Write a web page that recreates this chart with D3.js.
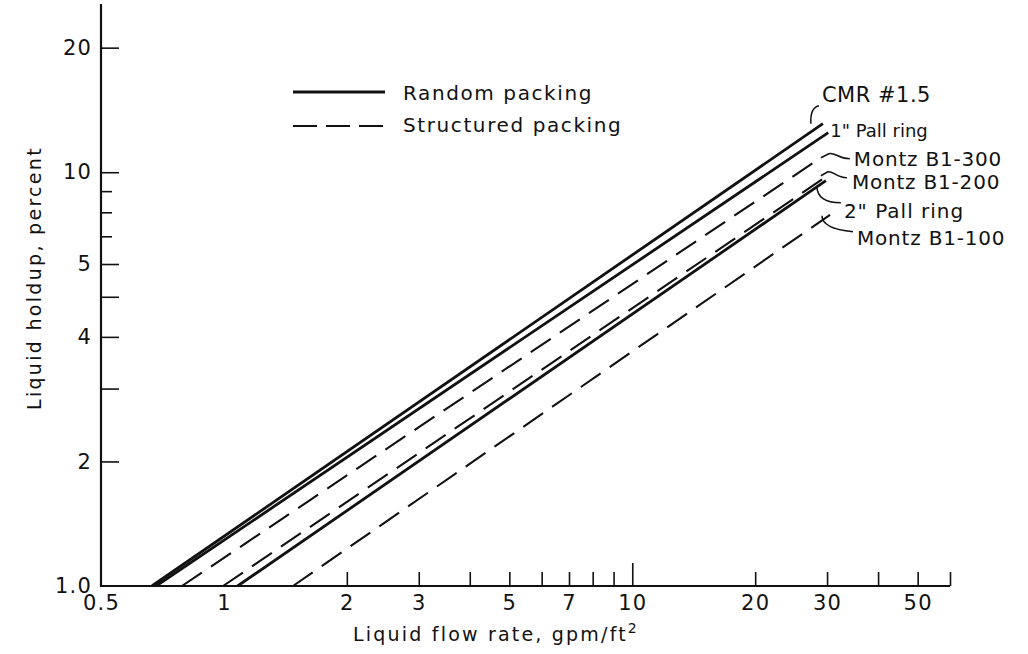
<!DOCTYPE html>
<html>
<head>
<meta charset="utf-8">
<script src="https://cdn.jsdelivr.net/npm/d3@7"></script>
<style>
  html, body { margin: 0; padding: 0; background: #fff; }
  svg { display: block; }
  text { font-family: "DejaVu Sans", "Liberation Sans", sans-serif; fill: #111; }
</style>
</head>
<body>
<svg id="chart" width="1028" height="654"></svg>
<script>
// ---- data ----
const seriesNames = ["CMR #1.5", "1\" Pall ring", "Montz B1-300", "Montz B1-200", "2\" Pall ring", "Montz B1-100"];
const seriesType  = ["random", "random", "structured", "structured", "random", "structured"];
// liquid flow rate (gpm/ft2) at start and end of each line
const flowStart = [0.666, 0.682, 0.789, 0.995, 1.08, 1.476];
const flowEnd   = [29.3, 30.2, 28.0, 29.8, 29.8, 30.5];
// liquid holdup (percent) at start and end of each line
const holdStart = [1.0, 1.0, 1.0, 1.0, 1.0, 1.0];
const holdEnd   = [13.1, 12.46, 10.6, 9.75, 9.54, 7.89];

const xMajorTicks = [2, 3, 4, 5, 6, 7, 8, 9, 20, 30, 40, 50, 60];
const xDecadeTicks = [10];
const xLabelValues = [0.5, 1, 2, 3, 5, 7, 10, 20, 30, 50];
const xLabels = ["0.5", "1", "2", "3", "5", "7", "10", "20", "30", "50"];
const yLongTicks = [2, 3, 4, 5, 6, 10, 20];
const yShortTicks = [7, 8, 9];
const yLabelValues = [1, 2, 4, 6, 10, 20];
const yLabels = ["1.0", "2", "4", "5", "10", "20"];

const legendNames = ["Random packing", "Structured packing"];
const legendTypes = ["random", "structured"];

// ---- layout ----
const svg = d3.select("#chart");
const x = d3.scaleLog().domain([0.5, 60]).range([101, 950]);
const y = d3.scaleLog().domain([1, 25.5]).range([586, 4]);

const styleFor = t => t === "random"
  ? { w: 2.8, dash: null }
  : { w: 2.1, dash: "24,11" };

// lines
const lineGen = d3.line().x(d => x(d[0])).y(d => y(d[1]));
const series = seriesNames.map((n, i) => ({
  name: n, type: seriesType[i],
  pts: [[flowStart[i], holdStart[i]], [flowEnd[i], holdEnd[i]]]
}));
svg.append("g").selectAll("path").data(series).join("path")
  .attr("d", d => lineGen(d.pts))
  .attr("fill", "none")
  .attr("stroke", "#111")
  .attr("stroke-width", d => styleFor(d.type).w)
  .attr("stroke-dasharray", d => styleFor(d.type).dash)
  .attr("stroke-linecap", "butt");

// axes
const axisG = svg.append("g");
// x tick marks (upward)
axisG.append("g").attr("transform", "translate(0,586)")
  .call(d3.axisBottom(x).tickValues(xMajorTicks).tickSize(-14).tickFormat(""))
  .call(g => g.select(".domain").remove());
axisG.append("g").attr("transform", "translate(0,586)")
  .call(d3.axisBottom(x).tickValues(xDecadeTicks).tickSize(-23).tickFormat(""))
  .call(g => g.select(".domain").remove());
// x labels
axisG.append("g").attr("transform", "translate(0,586)")
  .call(d3.axisBottom(x).tickValues(xLabelValues).tickSize(0).tickPadding(9)
        .tickFormat((d, i) => xLabels[i]))
  .call(g => g.select(".domain").remove())
  .call(g => g.selectAll("text").attr("font-size", 21).attr("letter-spacing", 1.2)
        .attr("font-family", "DejaVu Sans").attr("fill", "#111"));
// y tick marks (to the right)
axisG.append("g").attr("transform", "translate(101,0)")
  .call(d3.axisLeft(y).tickValues(yLongTicks).tickSize(-18).tickFormat(""))
  .call(g => g.select(".domain").remove());
axisG.append("g").attr("transform", "translate(101,0)")
  .call(d3.axisLeft(y).tickValues(yShortTicks).tickSize(-11).tickFormat(""))
  .call(g => g.select(".domain").remove());
// y labels
axisG.append("g").attr("transform", "translate(101,0)")
  .call(d3.axisLeft(y).tickValues(yLabelValues).tickSize(0).tickPadding(9)
        .tickFormat((d, i) => yLabels[i]))
  .call(g => g.select(".domain").remove())
  .call(g => g.selectAll("text").attr("font-size", 21).attr("letter-spacing", 1.2)
        .attr("font-family", "DejaVu Sans").attr("fill", "#111"));
axisG.selectAll(".tick line").attr("stroke", "#111").attr("stroke-width", 1.6);

// axis lines
const [x0, x1] = x.range();
const [y0, y1] = y.range();
svg.append("line").attr("x1", x0).attr("x2", x0).attr("y1", y0 + 1).attr("y2", y1)
  .attr("stroke", "#111").attr("stroke-width", 2.2);
svg.append("line").attr("x1", x0 - 1).attr("x2", x1).attr("y1", y0).attr("y2", y0)
  .attr("stroke", "#111").attr("stroke-width", 2.2);

// axis titles
const xt = svg.append("text").attr("x", 496).attr("y", 641).attr("text-anchor", "middle")
  .attr("font-size", 19).attr("letter-spacing", 2.2);
xt.append("tspan").text("Liquid flow rate, gpm/ft");
xt.append("tspan").attr("dy", -8).attr("font-size", 14).text("2");

svg.append("text").attr("transform", "translate(41,278) rotate(-90)")
  .attr("text-anchor", "middle").attr("font-size", 19).attr("letter-spacing", 2.3)
  .text("Liquid holdup, percent");

// legend
const leg = svg.append("g");
legendNames.forEach((n, i) => {
  const ly = 92 + i * 34;
  const st = styleFor(legendTypes[i]);
  leg.append("line").attr("x1", 293).attr("x2", 385).attr("y1", ly).attr("y2", ly)
    .attr("stroke", "#111").attr("stroke-width", st.w)
    .attr("stroke-dasharray", legendTypes[i] === "structured" ? "24,9" : null);
  leg.append("text").attr("x", 403).attr("y", 100 + i * 32).attr("font-size", 20)
    .attr("letter-spacing", 1.6).text(n);
});

// right-hand line labels with leader curves (offsets relative to each line end)
const labelOffsets = [[-1, -22], [2, 4], [39, 4], [26, 12], [18, 37], [27, 30]];
const labelSizes = [21, 18, 20, 20, 20, 20];
const labelSpacing = [0.5, 0, 0.8, 0.8, 1, 0.8];
const leaders = [
  "M -3 4 Q -12 6 -11 22",
  null,
  "M -4 -7 C -16 -7 -19 -14 -25 -12 L -33 -8",
  "M -5 -11 C -15 -11 -19 -18 -24 -17 L -31 -13",
  "M -3 -15 C -20 -15 -27 -22 -27 -32",
  "M -4 -13 C -24 -15 -35 -20 -35 -29"
];
const ann = svg.append("g");
series.forEach((s, i) => {
  const ex = x(flowEnd[i]) + labelOffsets[i][0];
  const ey = y(holdEnd[i]) + labelOffsets[i][1];
  ann.append("text").attr("x", ex).attr("y", ey).attr("font-size", labelSizes[i])
    .attr("letter-spacing", labelSpacing[i]).text(s.name);
  if (leaders[i]) {
    ann.append("path").attr("d", leaders[i]).attr("transform", `translate(${ex},${ey})`)
      .attr("fill", "none").attr("stroke", "#111").attr("stroke-width", 1.5);
  }
});
</script>
</body>
</html>
